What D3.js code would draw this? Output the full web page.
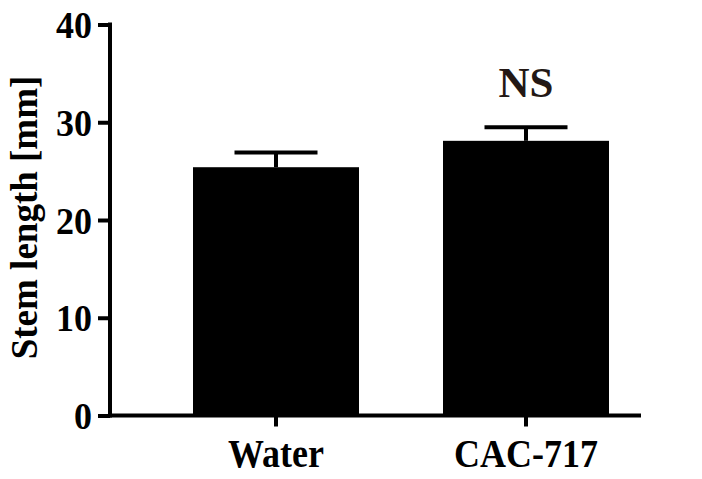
<!DOCTYPE html>
<html><head><meta charset="utf-8">
<script src="https://cdn.jsdelivr.net/npm/d3@7"></script>
<style>body{margin:0;background:#fff}svg{display:block}text{font-family:"Liberation Serif","Times New Roman",serif;font-weight:bold}</style>
</head><body>
<script>
const categories = ["Water", "CAC-717"];
const means = [25.4, 28.1];
const errors = [1.5, 1.4];
const yTicks = [0, 10, 20, 30, 40];
const annotations = ["", "NS"];

const W = 702, H = 479;
const svg = d3.select("body").append("svg").attr("width", W).attr("height", H);
const y = d3.scaleLinear().domain([0, 40]).range([415.5, 24.5]);
const x = d3.scaleBand().domain(categories).range([151, 651]).paddingInner(0.336).paddingOuter(0.168);

// bars
svg.selectAll("rect.bar").data(categories).enter().append("rect")
  .attr("x", d => x(d)).attr("width", x.bandwidth())
  .attr("y", (d, i) => y(means[i])).attr("height", (d, i) => y(0) - y(means[i]))
  .attr("fill", "#000");

// error bars
categories.forEach((c, i) => {
  const cx = x(c) + x.bandwidth() / 2;
  const top = y(means[i] + errors[i]);
  svg.append("line").attr("x1", cx).attr("x2", cx).attr("y1", top).attr("y2", y(means[i]))
    .attr("stroke", "#000").attr("stroke-width", 4);
  svg.append("line").attr("x1", cx - x.bandwidth() / 4).attr("x2", cx + x.bandwidth() / 4)
    .attr("y1", top).attr("y2", top).attr("stroke", "#000").attr("stroke-width", 4);
  if (annotations[i]) {
    svg.append("text").attr("x", cx).attr("y", top - 30).attr("text-anchor", "middle")
      .attr("font-size", 43).attr("fill", "#231815").text(annotations[i]);
  }
});

// y axis
const yAxis = svg.append("g").attr("transform", "translate(110,0)")
  .call(d3.axisLeft(y).tickValues(yTicks).tickSize(12).tickPadding(6).tickFormat(d3.format("d")));
yAxis.select(".domain").remove();
yAxis.selectAll(".tick line").attr("stroke", "#000").attr("stroke-width", 4);
yAxis.selectAll(".tick text").attr("font-size", 36).attr("fill", "#000").attr("dy", "0.34em")
  .attr("transform", "scale(1,1.08)")
  .style("font-family", '"Liberation Serif",serif').style("font-weight", "bold");
svg.append("line").attr("x1", 110).attr("x2", 110).attr("y1", y(40) - 2).attr("y2", y(0) + 2)
  .attr("stroke", "#000").attr("stroke-width", 4);

// x axis
const xAxis = svg.append("g").attr("transform", `translate(0,${y(0)})`)
  .call(d3.axisBottom(x).tickSize(11).tickPadding(14));
xAxis.select(".domain").remove();
xAxis.selectAll(".tick line").attr("stroke", "#000").attr("stroke-width", 4);
xAxis.selectAll(".tick text").attr("font-size", 36).attr("fill", "#000")
  .attr("y", 46).attr("dy", 0).attr("transform", "scale(1,1.12)")
  .style("font-family", '"Liberation Serif",serif').style("font-weight", "bold");
svg.append("line").attr("x1", 108).attr("x2", 641).attr("y1", y(0)).attr("y2", y(0))
  .attr("stroke", "#000").attr("stroke-width", 4);

// y label
svg.append("text").attr("transform", "translate(37,217.5) rotate(-90)")
  .attr("text-anchor", "middle").attr("font-size", 37).attr("fill", "#000").text("Stem length [mm]");
</script>
</body></html>
